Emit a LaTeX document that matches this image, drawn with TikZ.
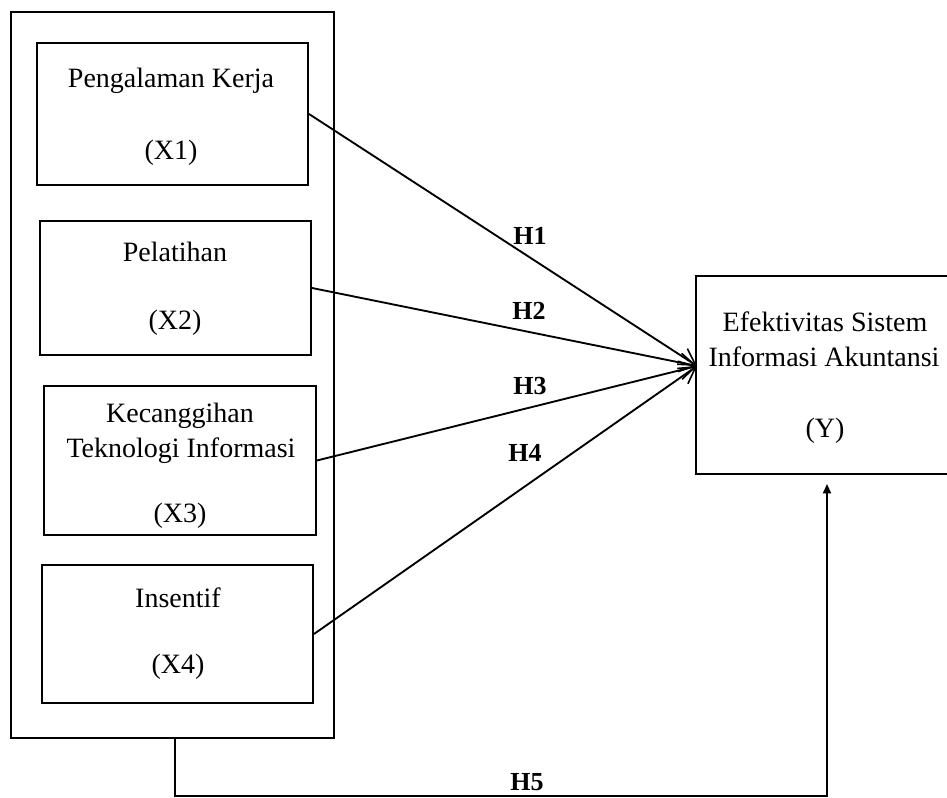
\documentclass[tikz,border=0pt]{standalone}
\usepackage{fontspec}
\setmainfont{Liberation Serif}
\usetikzlibrary{arrows.meta,fit,calc}
\begin{document}
\begin{tikzpicture}[x=0.75pt,y=-0.75pt,
  box/.style={draw, line width=1.5pt, inner sep=0pt},
  lbl/.style={anchor=base, font=\fontsize{21}{26}\selectfont, inner sep=0pt},
  hyp/.style={anchor=base, font=\fontsize{19.5}{24}\selectfont\bfseries, inner sep=0pt},
  conn/.style={line width=1.4pt, -{Straight Barb[length=12pt,width=14pt,line width=1.2pt]}},
  back/.style={line width=1.3pt, -{Triangle[length=7pt,width=6pt]}}
]
\clip (0,0) rectangle (947,798);
% boxes
\node[box, fit={(11,12) (334,738)}] (outer) {};
\node[box, fit={(37,43) (308,185)}] (x1) {};
\node[box, fit={(40,221) (311,355)}] (x2) {};
\node[box, fit={(44,386) (316,535)}] (x3) {};
\node[box, fit={(42,565) (313,703)}] (x4) {};
\node[box, fit={(696,276) (960,474)}] (y) {};
% texts
\node[lbl] (t1a) at (171,88) {Pengalaman Kerja};
\node[lbl] (t1b) at (171,160) {(X1)};
\node[lbl] (t2a) at (175,262) {Pelatihan};
\node[lbl] (t2b) at (175,330) {(X2)};
\node[lbl] (t3a) at (180,423) {Kecanggihan};
\node[lbl] (t3b) at (181,458) {Teknologi Informasi};
\node[lbl] (t3c) at (180,523) {(X3)};
\node[lbl] (t4a) at (178,608) {Insentif};
\node[lbl] (t4b) at (178,673) {(X4)};
\node[lbl] (tya) at (825,332) {Efektivitas Sistem};
\node[lbl] (tyb) at (824,367) {Informasi Akuntansi};
\node[lbl] (tyc) at (825,438) {(Y)};
% hypothesis labels
\node[hyp] (h1) at (530,245) {H1};
\node[hyp] (h2) at (529,320) {H2};
\node[hyp] (h3) at (530,395) {H3};
\node[hyp] (h4) at (525,462) {H4};
\node[hyp] (h5) at (527,790) {H5};
% connectors
\coordinate (tip) at (697,366);
\draw[conn] (x1.east) -- (tip);
\draw[conn] (x2.east) -- (tip);
\draw[conn] (x3.east) -- (tip);
\draw[conn] (x4.east) -- (tip);
\coordinate (bl) at (175,796);
\coordinate (br) at (827,796);
\coordinate (yt) at (827,484);
\draw[back] (outer.south -| bl) -- (bl) -- (br) -- (yt);
\end{tikzpicture}
\end{document}
